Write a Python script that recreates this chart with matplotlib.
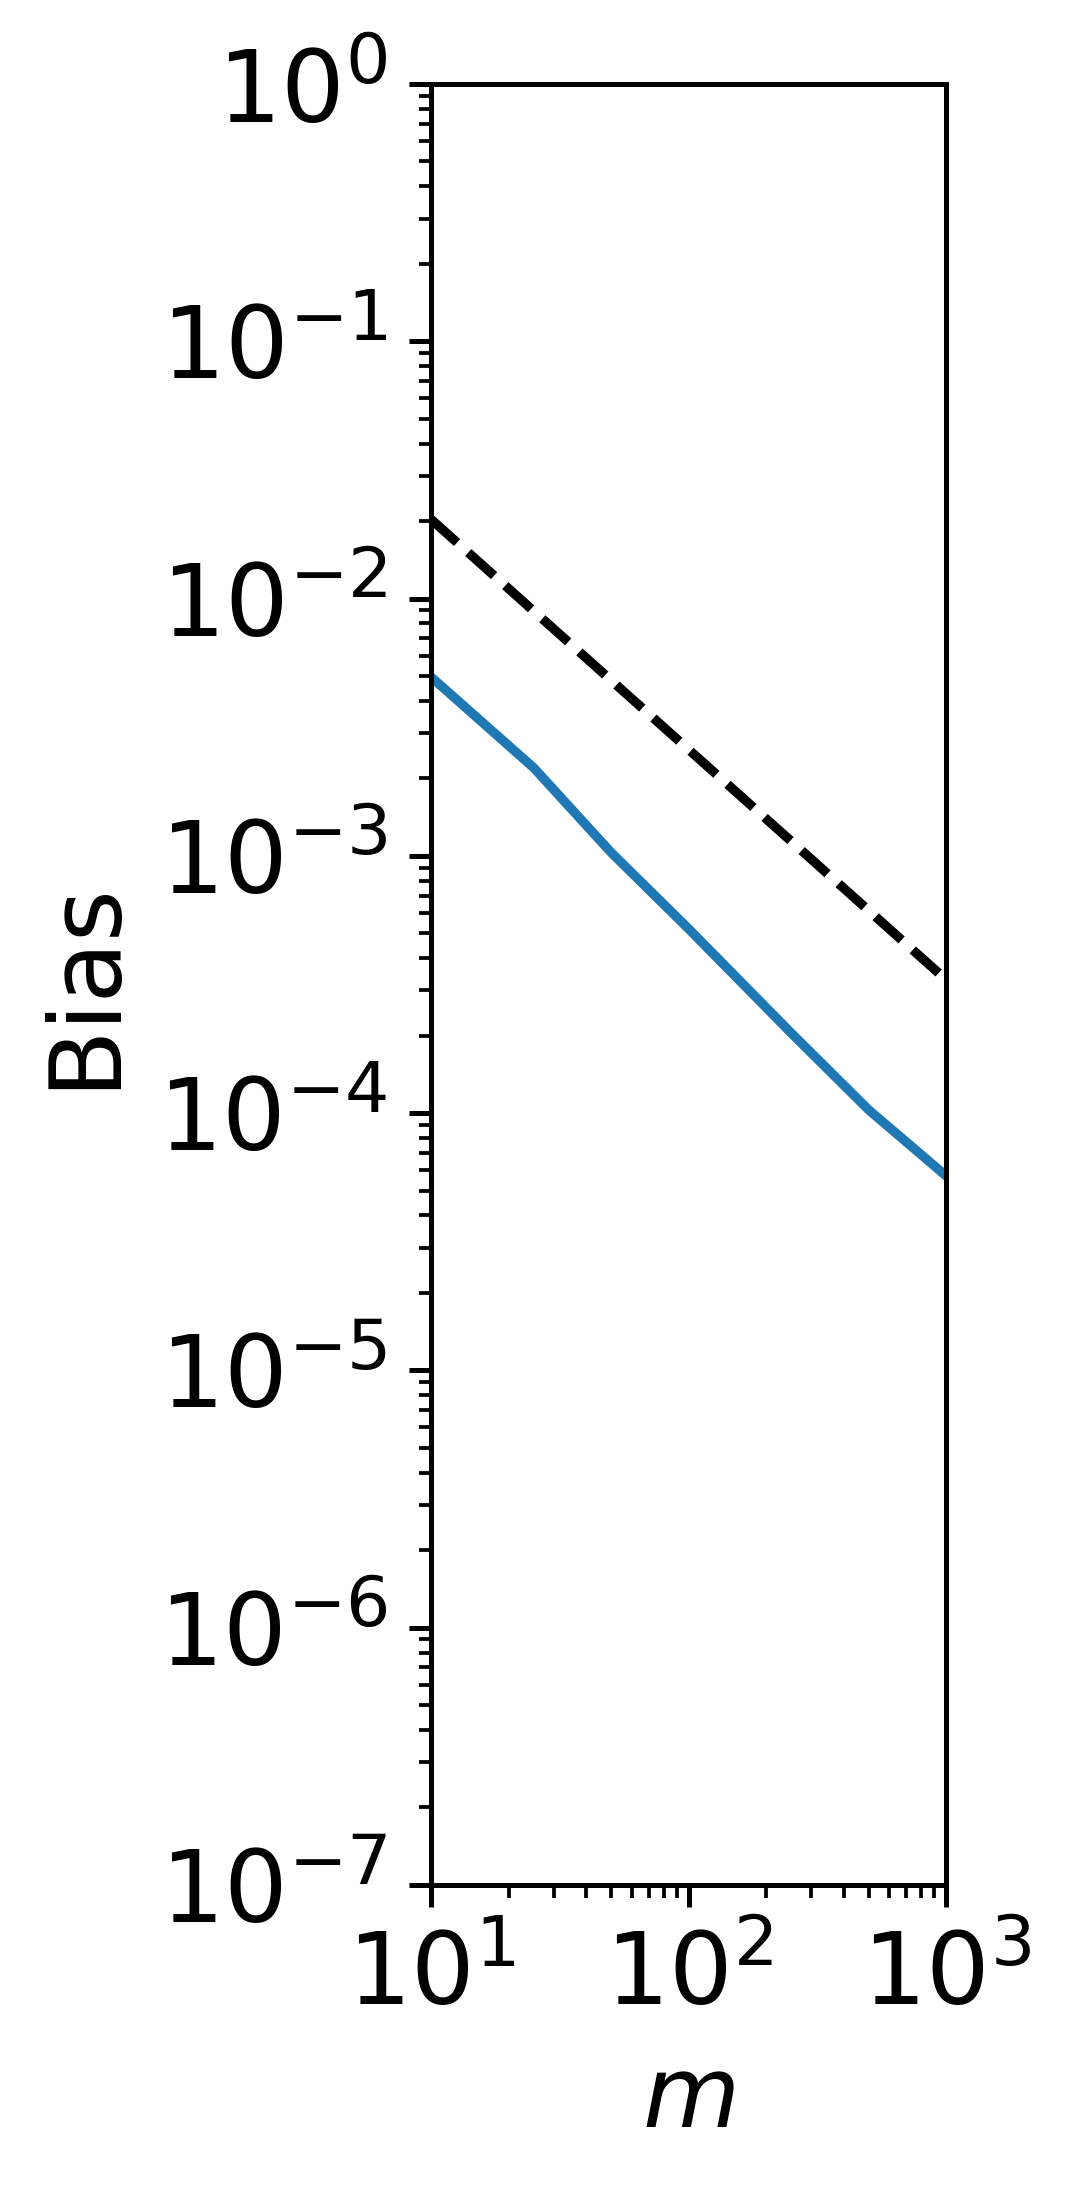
import numpy as np
import matplotlib
matplotlib.use("Agg")
from matplotlib import pyplot as plt

# values
m_vals = [10, 25, 50, 100, 250, 500, 1000]
bias = [4.95e-3, 2.2e-3, 1.03e-3, 5.2e-4, 2.05e-4, 1.03e-4, 5.7e-5]
m_ref = [10, 1000]
bias_ref = [2.03e-2, 3.3e-4]

plt.rcParams['font.size'] = 16
fig = plt.figure(figsize=(1078/450, 2193/450), dpi=450)
ax = fig.add_axes([0.400, 0.1405, 0.4776, 0.8212])

ax.loglog(m_vals, bias, color="tab:blue")
ax.loglog(m_ref, bias_ref, "k--")

ax.set_xlim(10, 1000)
ax.set_ylim(1e-7, 1e0)
ax.set_yticks([10.0**k for k in range(-7, 1)])
ax.set_xlabel("$m$")
ax.set_ylabel("Bias")

fig.savefig("out.png", dpi=450)
